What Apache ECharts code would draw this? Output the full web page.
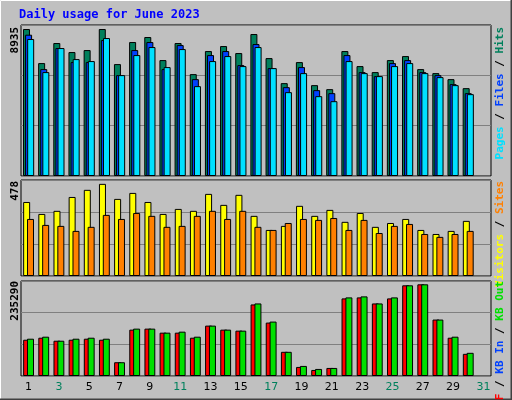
<!DOCTYPE html>
<html><head><meta charset="utf-8">
<script src="https://cdn.jsdelivr.net/npm/echarts@6/dist/echarts.min.js"></script>
<style>html,body{margin:0;padding:0;background:#c0c0c0}#c{width:512px;height:400px}</style>
</head><body><div id="c"></div>
<script>
const days = Array.from({length:31},(_,i)=>String(i+1));
const weekendDays = ['3','4','10','11','17','18','24','25','31'];
const hits  = [8935,6865,8083,7535,7656,8935,6804,8144,8449,7047,8083,6194,7596,7900,7474,8631,7169,5646,6925,5524,5280,7596,6682,6316,7047,7291,6499,6255,5889,5341,null];
const files = [8591,6499,7778,6925,6925,8265,6133,7656,8144,6499,7961,5889,7352,7596,6743,8022,6560,5402,6621,5220,5037,7352,6316,6072,6865,7047,6316,6133,5585,5037,null];
const pages = [8327,6316,7778,7108,6987,8388,6133,7352,7839,6621,7717,5463,6987,7291,6682,7839,6560,5098,6255,4854,4549,6987,6255,6072,6682,6865,6255,6012,5524,4976,null];
const visits= [384,322,338,410,447,478,400,431,384,322,348,338,426,369,421,312,239,260,364,312,343,281,327,255,275,296,239,218,234,286,null];
const sites = [296,265,260,234,255,317,296,327,312,255,260,312,338,296,338,255,239,275,296,291,301,239,291,223,260,270,218,203,218,234,null];
const kbF   = [93085,98256,90500,93085,95671,93085,35338,118942,121528,111185,111185,98256,129285,118942,116357,183585,137042,62057,23271,15514,20686,199099,201685,186170,199099,232713,235290,144799,98256,56885,null];
const kbOut = [95671,100842,90500,95671,98256,95671,35338,121528,121528,111185,113771,100842,129285,118942,116357,186170,139628,62057,25857,18100,20686,201685,204270,186170,201685,232713,235290,144799,100842,59471,null];
const maxLabels = ['8935','478','235290'];

const chart = echarts.init(document.getElementById('c'));
const mono = 'DejaVu Sans Mono';
const grids = [
  {left:21,right:21,top:25,height:151},
  {left:21,right:21,top:180,height:96},
  {left:21,right:21,top:281,height:95}
].map(g=>Object.assign({show:true,backgroundColor:'#c0c0c0',borderColor:'#000',borderWidth:1},g));
const yMax=[9180,498,243750];
const xAxes = [0,1,2].map(i=>({type:'category',gridIndex:i,data:days,
  axisLine:{show:false},axisTick:{show:false},
  axisLabel:{show:i===2,fontFamily:'DejaVu Sans',fontSize:11,margin:6,
    color:(v)=>weekendDays.includes(v)?'#00805c':'#000'}}));
const yAxes = [0,1,2].map(i=>({type:'value',gridIndex:i,min:0,max:yMax[i],interval:yMax[i]/3,
  axisLabel:{show:false},axisLine:{show:false},axisTick:{show:false},
  splitLine:{lineStyle:{color:'#808080',width:1}}}));
const bs = {borderColor:'#000',borderWidth:1};
function bar(data,color,gi,gap){return {type:'bar',data,xAxisIndex:gi,yAxisIndex:gi,barWidth:7,barGap:gap,
  itemStyle:Object.assign({color},bs),animation:false};}
const series=[
  bar(hits,'#00805c',0,'-70%'),bar(files,'#0040ff',0,'-70%'),bar(pages,'#00e0ff',0,'-70%'),
  bar(visits,'#ffff00',1,'-45%'),bar(sites,'#ff8000',1,'-45%'),
  bar(kbF,'#ff0000',2,'-45%'),bar(kbOut,'#00e000',2,'-45%')
];
function vtext(x,y,text,rich){return {type:'text',x,y,rotation:Math.PI/2,z:100,
  style:{text,rich,fontFamily:mono,fontSize:11,fontWeight:'bold',align:'right',verticalAlign:'middle'}};}
const r = c=>({fill:c,fontFamily:mono,fontSize:11,fontWeight:'bold'});
const graphic=[
  {type:'rect',shape:{x:0.5,y:0.5,width:511,height:399},style:{fill:null,stroke:'#fff'},z:-10},
  {type:'polyline',shape:{points:[[511.5,0],[511.5,399.5],[0,399.5]]},style:{stroke:'#404040',lineWidth:2,fill:null},z:-9},
  {type:'text',x:19,y:9,style:{text:'Daily usage for June 2023',fill:'#0000ff',fontFamily:mono,fontSize:12,fontWeight:'bold'}},
  vtext(15,27,maxLabels[0],{}), vtext(15,181,maxLabels[1],{}), vtext(15,281,maxLabels[2],{}),
  vtext(500,27,'{p|Pages}{k| / }{f|Files}{k| / }{h|Hits}',{p:r('#00e0ff'),k:r('#000'),f:r('#0040ff'),h:r('#00805c')}),
  vtext(500,181,'{v|Visitors}{k| / }{s|Sites}',{v:r('#ffff00'),k:r('#000'),s:r('#ff8000')}),
  vtext(500,281,'{a|KB F}{k| / }{b|KB In}{k| / }{c|KB Out}',{a:r('#ff0000'),k:r('#000'),b:r('#0040ff'),c:r('#00e000')})
];
graphic.slice(3,6).forEach(g=>g.style.fill='#000');
chart.setOption({animation:false,backgroundColor:'#c0c0c0',grid:grids,xAxis:xAxes,yAxis:yAxes,series,graphic});
</script></body></html>
